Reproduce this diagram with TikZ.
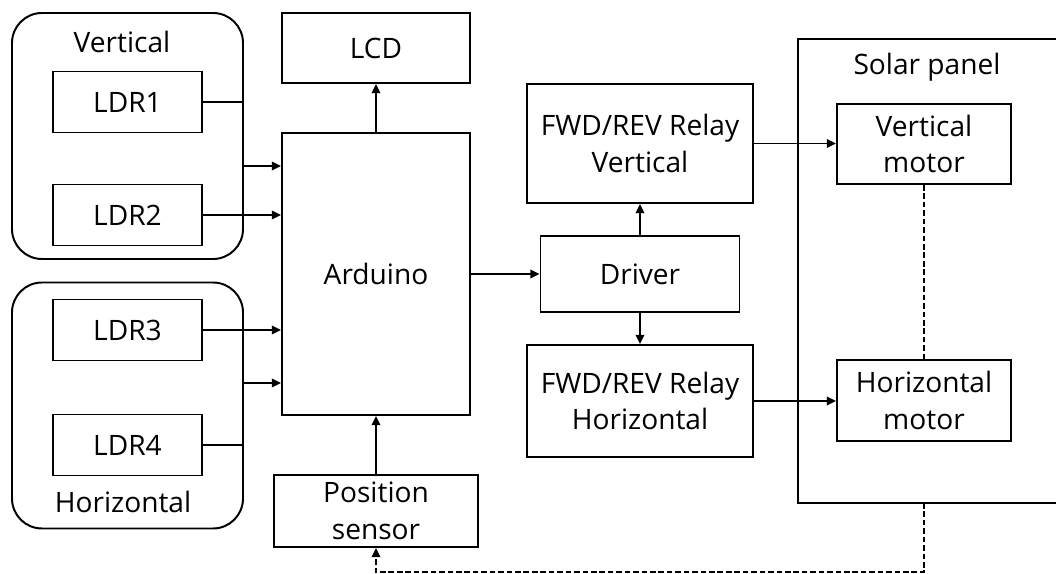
\documentclass[tikz,border=0pt]{standalone}
\usepackage{fontspec}
\setmainfont{Open Sans}
\usepackage{tikz}
\usetikzlibrary{arrows.meta, positioning}

\begin{document}
\begin{tikzpicture}[
  font=\fontsize{20}{26}\selectfont,
  line width=1.4pt,
  blk/.style={draw, rectangle, align=center, inner sep=2pt},
  grp/.style={draw, rounded corners=0.75cm, minimum width=5.775cm, minimum height=6.15cm},
  arr/.style={-{Triangle[length=6.5pt, width=6pt]}},
  dsh/.style={dash pattern=on 4pt off 2pt}
]
\useasboundingbox (0,0) rectangle (26.4,14.35);

% -- LDR groups -------------------------------------------------------------
\node[grp] (vgrp) at (3.1875,10.95) {};
\node[grp] (hgrp) at (3.1875,4.2125) {};
\node (vlbl) at (3.05,13.3) {Vertical};
\node (hlbl) at (3.075,1.8) {Horizontal};
\foreach \n/\y in {1/11.8, 2/8.975, 3/6.1, 4/3.225}
  \node[blk, minimum width=3.725cm, minimum height=1.525cm] (ldr\n) at (3.1875,\y) {LDR\n};

% -- Controller -------------------------------------------------------------
\node[blk, minimum width=4.7cm, minimum height=1.75cm] (lcd) at (9.4,13.15) {LCD};
\node[blk, minimum width=4.7cm, minimum height=7.05cm] (ard) at (9.4,7.5) {Arduino};
\node[blk, minimum width=5.1cm, minimum height=1.8cm] (pos) at (9.4,1.575) {Position\\sensor};

% -- Driver and relays ------------------------------------------------------
\node[blk, minimum width=5.65cm, minimum height=2.975cm] (relv) at (16,10.7625) {FWD/REV Relay\\Vertical};
\node[blk, minimum width=4.975cm, minimum height=1.9cm] (drv) at (16,7.5) {Driver};
\node[blk, minimum width=5.65cm, minimum height=2.8cm] (relh) at (16,4.325) {FWD/REV Relay\\Horizontal};

% -- Solar panel ------------------------------------------------------------
\begin{scope}
  \clip (0,0) rectangle (26.4,14.35);
  \draw (19.95,1.775) rectangle (27,13.375);
\end{scope}
\coordinate (pnl) at (19.95,1.775);
\node (plbl) at (23.175,12.675) {Solar panel};
\node[blk, minimum width=4.35cm, minimum height=2cm] (vmot) at (23.1,10.75) {Vertical\\motor};
\node[blk, minimum width=4.35cm, minimum height=2.025cm] (hmot) at (23.1,4.3375) {Horizontal\\motor};

% -- Connections ------------------------------------------------------------
\draw[arr] (ldr1.east) -- ++(1,0) |- ([yshift=2.7cm]ard.west);
\draw[arr] (ldr2.east) -- (ldr2.east -| ard.west);
\draw[arr] (ldr3.east) -- (ldr3.east -| ard.west);
\draw[arr] (ldr4.east) -- ++(1,0) |- ([yshift=-2.725cm]ard.west);
\draw[arr] (ard) -- (lcd);
\draw[arr] (pos) -- (ard);
\draw[arr] (ard) -- (drv);
\draw[arr] (drv) -- (relv);
\draw[arr] (drv) -- (relh);
\draw[arr] (relv.east) -- (relv.east -| vmot.west);
\draw[arr] (relh.east) -- (relh.east -| hmot.west);
\draw[dsh] (vmot) -- (hmot);
\draw[dsh, arr] (hmot |- pnl) -- ++(0,-1.725) -| (pos.south);

\end{tikzpicture}
\end{document}
